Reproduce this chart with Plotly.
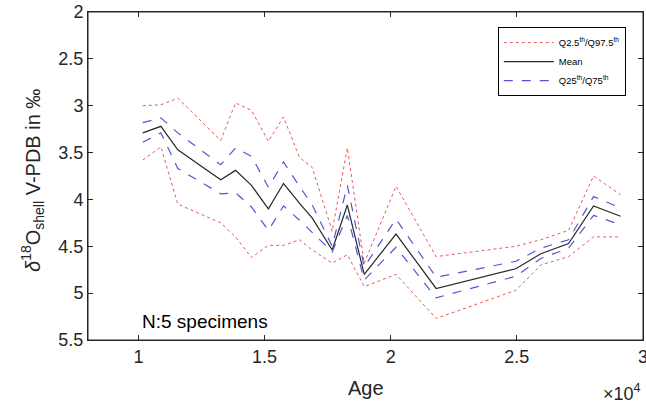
import plotly.graph_objects as go

# ages (years) shared by all series
age = [10170, 10890, 11560, 13260, 13850, 14480, 15150, 15750, 16380, 16890,
       17680, 18280, 18950, 20210, 21800, 24960, 25950, 27050, 28040, 29110]

mean = [3.29, 3.22, 3.47, 3.79, 3.69, 3.85, 4.10, 3.83, 4.04, 4.20,
        4.54, 4.06, 4.80, 4.37, 4.95, 4.74, 4.58, 4.47, 4.07, 4.18]

q25 = [3.18, 3.13, 3.29, 3.63, 3.45, 3.54, 3.87, 3.60, 3.86, 4.06,
       4.50, 3.85, 4.72, 4.21, 4.83, 4.66, 4.52, 4.43, 3.97, 4.09]

q75 = [3.39, 3.29, 3.67, 3.94, 3.93, 4.08, 4.33, 4.07, 4.22, 4.35,
       4.56, 4.17, 4.86, 4.51, 5.05, 4.82, 4.63, 4.52, 4.17, 4.27]

q025 = [3.00, 2.99, 2.92, 3.37, 2.97, 3.05, 3.38, 3.12, 3.55, 3.66,
        4.34, 3.45, 4.68, 3.86, 4.61, 4.50, 4.43, 4.33, 3.75, 3.95]

q975 = [3.58, 3.44, 4.05, 4.25, 4.40, 4.62, 4.49, 4.49, 4.43, 4.54,
        4.68, 4.59, 4.93, 4.80, 5.27, 4.97, 4.70, 4.61, 4.40, 4.40]

xtick_vals = [10000, 15000, 20000, 25000, 30000]
xtick_text = ["1", "1.5", "2", "2.5", "3"]
ytick_vals = [2, 2.5, 3, 3.5, 4, 4.5, 5, 5.5]

red = "rgb(230,90,90)"
blue = "rgb(85,85,215)"
black = "rgb(40,40,40)"
axis_col = "rgb(38,38,38)"

fig = go.Figure()

fig.add_trace(go.Scatter(x=age, y=q025, mode="lines", name="Q2.5<sup>th</sup>/Q97.5<sup>th</sup>",
                         legendgroup="q2", line=dict(color=red, width=1, dash="dot")))
fig.add_trace(go.Scatter(x=age, y=q975, mode="lines", showlegend=False,
                         legendgroup="q2", line=dict(color=red, width=1, dash="dot")))
fig.add_trace(go.Scatter(x=age, y=mean, mode="lines", name="Mean",
                         line=dict(color=black, width=1.2)))
fig.add_trace(go.Scatter(x=age, y=q25, mode="lines", name="Q25<sup>th</sup>/Q75<sup>th</sup>",
                         legendgroup="q25", line=dict(color=blue, width=1.2, dash="dash")))
fig.add_trace(go.Scatter(x=age, y=q75, mode="lines", showlegend=False,
                         legendgroup="q25", line=dict(color=blue, width=1.2, dash="dash")))

fig.update_layout(
    width=646, height=407,
    margin=dict(l=88, r=3, t=12, b=67, autoexpand=False),
    plot_bgcolor="white", paper_bgcolor="white",
    font=dict(family="Arial, Liberation Sans, sans-serif", color=axis_col, size=18),
    legend=dict(x=0.969, y=0.954, xanchor="right", yanchor="top",
                bordercolor="black", borderwidth=1, bgcolor="white",
                font=dict(size=9.5, color="black"), tracegroupgap=0,
                itemwidth=50),
    # frame around the axes (MATLAB box)
    shapes=[dict(type="rect", xref="paper", yref="paper", x0=0, y0=0, x1=1, y1=1,
                 line=dict(color=axis_col, width=1), layer="above")],
    annotations=[
        dict(text="N:5 specimens", x=0.0937, y=0.056, xref="paper", yref="paper",
             xanchor="left", yanchor="middle", showarrow=False,
             font=dict(size=19, color="black")),
        dict(text="Age", x=0.5, y=-0.146, xref="paper", yref="paper",
             xanchor="center", yanchor="middle", showarrow=False,
             font=dict(size=20, color=axis_col)),
        dict(text="×10<sup>4</sup>", x=1.0, y=-0.159, xref="paper", yref="paper",
             xanchor="right", yanchor="middle", showarrow=False,
             font=dict(size=18, color=axis_col)),
        dict(text="<i>δ</i><sup>18</sup>O<sub>shell</sub> V-PDB in ‰", x=-0.099, y=0.485,
             xref="paper", yref="paper", xanchor="center", yanchor="middle",
             textangle=-90, showarrow=False, font=dict(size=20, color=axis_col)),
    ],
)

fig.update_xaxes(
    range=[8000, 30000], tickvals=xtick_vals, ticktext=xtick_text,
    showgrid=False, zeroline=False, showline=True, linecolor=axis_col, linewidth=1,
    mirror="ticks", ticks="inside", ticklen=5, tickcolor=axis_col,
    automargin=False, ticklabeloverflow="allow",
)
fig.update_yaxes(
    range=[5.5, 2], tickvals=ytick_vals,
    showgrid=False, zeroline=False, showline=True, linecolor=axis_col, linewidth=1,
    mirror="ticks", ticks="inside", ticklen=5, tickcolor=axis_col,
    automargin=False, ticklabeloverflow="allow",
)

# drop the default page margin so the figure sits at the window's corner
fig.write_html("out.html", config={"displayModeBar": False},
               post_script="document.body.style.margin='0';")
